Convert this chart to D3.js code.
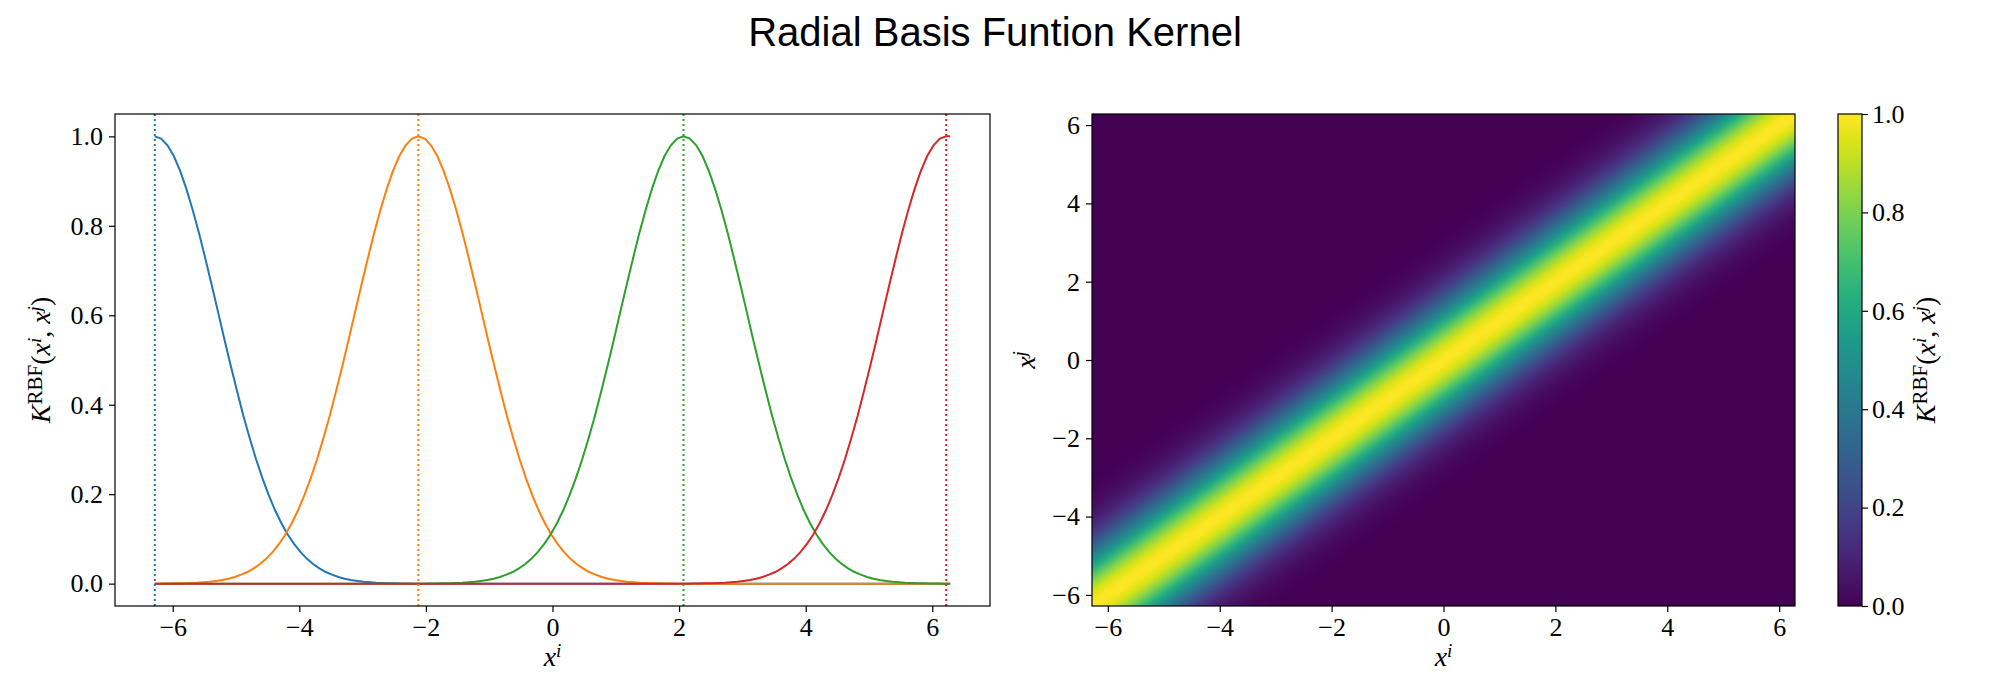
<!DOCTYPE html>
<html><head><meta charset="utf-8">
<script src="https://cdn.jsdelivr.net/npm/d3@7"></script>
<style>body{margin:0;background:#fff}svg{font-family:"Liberation Serif",serif}</style>
</head><body><svg id="c" width="2000" height="700"></svg>
<script>
const TWO_PI = 6.283185;
const centers = [-6.283185, -2.12, 2.07, 6.22];
const colors = ["#1f77b4","#ff7f0e","#2ca02c","#d62728"];
const profileStep = 0.1;
// kernel value vs distance |xi - xj| (step 0.1)
const profile = [1,.995,.980,.956,.923,.882,.835,.783,.726,.667,.607,.546,.487,.430,.375,.325,.278,.236,.198,.164,.135,.110,.089,.071,.056,.044,.034,.026,.020,.015,.011,.008,.006,.004,.003,.002,.0015,.001,.0007,.0005,.0003,0];
const xTicks = [-6,-4,-2,0,2,4,6];
const yTicks = [0,0.2,0.4,0.6,0.8,1.0];
const cbTicks = [0,0.2,0.4,0.6,0.8,1.0];

const svg = d3.select("#c");
svg.append("text").attr("x",995).attr("y",46).attr("text-anchor","middle")
  .style("font-family","Liberation Sans, sans-serif").style("font-size","40px").text("Radial Basis Funtion Kernel");

function klabel(g, x, y, rot){
  const t = g.append("text").attr("transform",`translate(${x},${y}) rotate(${rot})`).attr("text-anchor","middle").style("font-size","28px");
  t.append("tspan").style("font-style","italic").text("K");
  t.append("tspan").attr("baseline-shift","40%").style("font-size","21px").text("RBF");
  t.append("tspan").text("(");
  t.append("tspan").style("font-style","italic").text("x");
  t.append("tspan").attr("baseline-shift","45%").style("font-size","19px").style("font-style","italic").text("i");
  t.append("tspan").text(", ");
  t.append("tspan").style("font-style","italic").text("x");
  t.append("tspan").attr("baseline-shift","45%").style("font-size","19px").style("font-style","italic").text("j");
  t.append("tspan").text(")");
}
function xlabel(g, x, y, sup){
  const t = g.append("text").attr("transform",`translate(${x},${y})`).attr("text-anchor","middle").style("font-size","28px").style("font-style","italic");
  t.append("tspan").text("x"); t.append("tspan").attr("baseline-shift","45%").style("font-size","19px").text(sup);
  return t;
}
const fmtTick = d => (d<0?"\u2212":"")+Math.abs(d);
function styleAxis(a){ a.selectAll("text").style("font-size","26px").style("font-family","Liberation Serif, serif"); a.selectAll("line").attr("stroke-width",1.2); a.select(".domain").remove(); }

// ---- left plot
const L = {l:115,r:990,t:114,b:606};
const x1 = d3.scaleLinear().domain([-6.912,6.912]).range([L.l,L.r]);
const y1 = d3.scaleLinear().domain([-0.05,1.05]).range([L.b,L.t]);
const g1 = svg.append("g");
const line = d3.line().x(d=>x1(d[0])).y(d=>y1(d[1]));
const eps = 0.01;
centers.forEach((c,ci)=>{
  const pts = [];
  for(let k=profile.length-1;k>0;k--){ const x=c-k*profileStep; if(x>=-TWO_PI-eps) pts.push([x,profile[k]]); }
  for(let k=0;k<profile.length;k++){ const x=c+k*profileStep; if(x<=TWO_PI+eps) pts.push([x,profile[k]]); }
  if(pts[0][0]>-TWO_PI+eps) pts.unshift([-TWO_PI,0]);
  if(pts[pts.length-1][0]<TWO_PI-eps) pts.push([TWO_PI,pts[pts.length-1][1]]);
  g1.append("path").attr("d",line(pts)).attr("fill","none").attr("stroke",colors[ci]).attr("stroke-width",2);
});
centers.forEach((c,ci)=>{
  g1.append("line").attr("x1",x1(c)).attr("x2",x1(c)).attr("y1",L.t).attr("y2",L.b)
   .attr("stroke",colors[ci]).attr("stroke-width",2).attr("stroke-dasharray","2,3");
});
g1.append("rect").attr("x",L.l).attr("y",L.t).attr("width",L.r-L.l).attr("height",L.b-L.t).attr("fill","none").attr("stroke","#000").attr("stroke-width",1.2);
styleAxis(g1.append("g").attr("transform",`translate(0,${L.b})`).call(d3.axisBottom(x1).tickValues(xTicks).tickFormat(fmtTick).tickSize(6).tickPadding(6)));
styleAxis(g1.append("g").attr("transform",`translate(${L.l},0)`).call(d3.axisLeft(y1).tickValues(yTicks).tickFormat(d3.format(".1f")).tickSize(6).tickPadding(6)));
xlabel(g1,(L.l+L.r)/2,666,"i");
klabel(g1,50,(L.t+L.b)/2,-90);

// ---- right heatmap
const R = {l:1092,r:1795,t:114,b:606};
const x2 = d3.scaleLinear().domain([-TWO_PI,TWO_PI]).range([R.l,R.r]);
const y2 = d3.scaleLinear().domain([-TWO_PI,TWO_PI]).range([R.b,R.t]);
const N = 126, h = 2*TWO_PI/(N-1);
const cv = document.createElement("canvas"); cv.width=N; cv.height=N;
const ctx = cv.getContext("2d"); const img = ctx.createImageData(N,N);
for(let r=0;r<N;r++){ const yj = TWO_PI - r*h;
  for(let c=0;c<N;c++){ const xi = -TWO_PI + c*h;
    const k = Math.round(Math.abs(xi-yj)/profileStep);
    const v = k<profile.length?profile[k]:0;
    const col = d3.rgb(d3.interpolateViridis(v)); const o=(r*N+c)*4;
    img.data[o]=col.r; img.data[o+1]=col.g; img.data[o+2]=col.b; img.data[o+3]=255; } }
ctx.putImageData(img,0,0);
const g2 = svg.append("g");
g2.append("image").attr("href",cv.toDataURL()).attr("x",R.l).attr("y",R.t).attr("width",R.r-R.l).attr("height",R.b-R.t).attr("preserveAspectRatio","none");
g2.append("rect").attr("x",R.l).attr("y",R.t).attr("width",R.r-R.l).attr("height",R.b-R.t).attr("fill","none").attr("stroke","#000").attr("stroke-width",1.2);
styleAxis(g2.append("g").attr("transform",`translate(0,${R.b})`).call(d3.axisBottom(x2).tickValues(xTicks).tickFormat(fmtTick).tickSize(6).tickPadding(6)));
styleAxis(g2.append("g").attr("transform",`translate(${R.l},0)`).call(d3.axisLeft(y2).tickValues(xTicks).tickFormat(fmtTick).tickSize(6).tickPadding(6)));
xlabel(g2,(R.l+R.r)/2,666,"i");
xlabel(g2,0,0,"j").attr("transform",`translate(1035,${(R.t+R.b)/2}) rotate(-90)`);

// colorbar
const C = {l:1838,r:1862};
const yc = d3.scaleLinear().domain([0,1]).range([R.b,R.t]);
const grad = svg.append("defs").append("linearGradient").attr("id","vg").attr("x1",0).attr("y1",1).attr("x2",0).attr("y2",0);
d3.range(0,1.0001,0.05).forEach(t=>grad.append("stop").attr("offset",t).attr("stop-color",d3.interpolateViridis(t)));
svg.append("rect").attr("x",C.l).attr("y",R.t).attr("width",C.r-C.l).attr("height",R.b-R.t).attr("fill","url(#vg)").attr("stroke","#000").attr("stroke-width",1.2);
styleAxis(svg.append("g").attr("transform",`translate(${C.r},0)`).call(d3.axisRight(yc).tickValues(cbTicks).tickFormat(d3.format(".1f")).tickSize(6).tickPadding(4)));
klabel(svg,1935,(R.t+R.b)/2,-90);
</script></body></html>
